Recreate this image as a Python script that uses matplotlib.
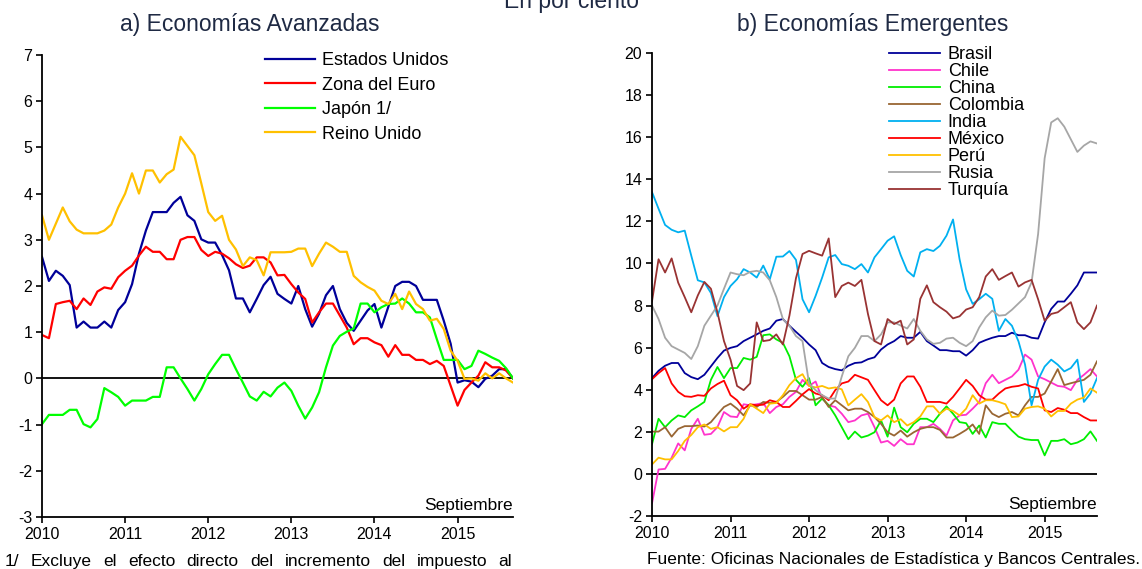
import numpy as np
import matplotlib
matplotlib.use("Agg")
import matplotlib.pyplot as plt

plt.rcParams['font.family'] = ['Liberation Sans', 'DejaVu Sans']
plt.rcParams['axes.unicode_minus'] = False

# months Jan 2010 .. Sep 2015
months = np.arange(69)
year_ticks = [0, 12, 24, 36, 48, 60]
year_labels = ['2010', '2011', '2012', '2013', '2014', '2015']

# a) Economias Avanzadas (% anual)
estados_unidos = [2.63, 2.11, 2.33, 2.22, 2.02, 1.1, 1.23, 1.1, 1.1, 1.23, 1.1, 1.48,
                  1.65, 2.04, 2.7, 3.2, 3.6, 3.6, 3.6, 3.8, 3.93, 3.53, 3.41, 3.01,
                  2.94, 2.94, 2.67, 2.34, 1.73, 1.73, 1.43, 1.72, 2.02, 2.2, 1.83, 1.72,
                  1.62, 2.0, 1.5, 1.12, 1.4, 1.8, 2.0, 1.5, 1.2, 1.03, 1.25, 1.47,
                  1.61, 1.1, 1.55, 2.0, 2.09, 2.09, 2.0, 1.7, 1.7, 1.7, 1.25, 0.75,
                  -0.09, -0.04, -0.07, -0.19, -0.01, 0.06, 0.2, 0.2, 0.0]
zona_euro = [0.94, 0.87, 1.61, 1.65, 1.68, 1.5, 1.73, 1.59, 1.88, 1.97, 1.94, 2.19,
             2.33, 2.44, 2.66, 2.85, 2.74, 2.74, 2.58, 2.58, 3.0, 3.06, 3.06, 2.78,
             2.65, 2.74, 2.7, 2.6, 2.47, 2.39, 2.44, 2.62, 2.62, 2.51, 2.23, 2.24,
             2.04, 1.86, 1.72, 1.21, 1.43, 1.62, 1.62, 1.36, 1.1, 0.74, 0.87, 0.87,
             0.78, 0.72, 0.47, 0.72, 0.51, 0.51, 0.4, 0.4, 0.31, 0.38, 0.27, -0.16,
             -0.59, -0.25, -0.09, 0.06, 0.35, 0.24, 0.24, 0.17, 0.0]
japon = [-0.99, -0.79, -0.79, -0.79, -0.68, -0.68, -0.99, -1.06, -0.88, -0.21, -0.3, -0.4,
         -0.59, -0.48, -0.48, -0.48, -0.4, -0.4, 0.24, 0.24, 0.0, -0.23, -0.48, -0.23,
         0.09, 0.31, 0.51, 0.51, 0.2, -0.09, -0.39, -0.48, -0.29, -0.39, -0.2, -0.09,
         -0.27, -0.59, -0.87, -0.63, -0.3, 0.24, 0.71, 0.92, 1.01, 1.08, 1.62, 1.62,
         1.43, 1.54, 1.61, 1.62, 1.73, 1.62, 1.43, 1.43, 1.32, 0.85, 0.4, 0.4,
         0.4, 0.2, 0.27, 0.6, 0.53, 0.45, 0.38, 0.22, 0.0]
reino_unido = [3.53, 3.0, 3.35, 3.7, 3.4, 3.22, 3.14, 3.14, 3.14, 3.2, 3.33, 3.7,
               4.0, 4.44, 4.0, 4.5, 4.5, 4.24, 4.42, 4.52, 5.23, 5.03, 4.83, 4.22,
               3.6, 3.41, 3.52, 3.0, 2.79, 2.43, 2.62, 2.56, 2.23, 2.73, 2.73, 2.73,
               2.74, 2.81, 2.81, 2.43, 2.7, 2.94, 2.85, 2.74, 2.74, 2.22, 2.08, 1.98,
               1.9, 1.68, 1.61, 1.83, 1.5, 1.88, 1.61, 1.5, 1.25, 1.29, 1.07, 0.6,
               0.38, -0.01, 0.0, -0.05, 0.11, 0.0, 0.11, 0.0, -0.09]

# b) Economias Emergentes (% anual)
brasil = [4.55, 4.9, 5.14, 5.27, 5.27, 4.79, 4.6, 4.5, 4.71, 5.11, 5.51, 5.86,
          5.99, 6.07, 6.31, 6.47, 6.63, 6.8, 6.91, 7.28, 7.36, 7.04, 6.75, 6.47,
          6.15, 5.88, 5.27, 5.08, 4.98, 4.92, 5.14, 5.27, 5.3, 5.45, 5.54, 5.91,
          6.15, 6.31, 6.55, 6.47, 6.47, 6.75, 6.31, 6.1, 5.88, 5.88, 5.83, 5.83,
          5.62, 5.88, 6.23, 6.36, 6.47, 6.55, 6.55, 6.71, 6.59, 6.59, 6.47, 6.43,
          7.2, 7.84, 8.19, 8.19, 8.56, 8.96, 9.57, 9.57, 9.57]
chile = [-1.4, 0.21, 0.24, 0.77, 1.45, 1.12, 2.14, 2.62, 1.86, 1.9, 2.22, 2.94,
         2.73, 2.7, 3.31, 3.26, 3.31, 3.37, 2.89, 3.18, 3.31, 3.66, 3.9, 4.47,
         4.18, 4.39, 3.58, 3.26, 3.18, 2.86, 2.46, 2.54, 2.78, 2.86, 2.22, 1.49,
         1.57, 1.33, 1.65, 1.41, 1.41, 2.22, 2.22, 2.38, 2.14, 1.82, 2.54, 2.78,
         2.81, 3.1, 3.42, 4.31, 4.71, 4.31, 4.47, 4.63, 4.95, 5.67, 5.43, 4.63,
         4.5, 4.34, 4.18, 4.14, 3.98, 4.47, 4.71, 4.98, 4.63]
china = [1.41, 2.62, 2.22, 2.54, 2.78, 2.7, 3.02, 3.21, 3.42, 4.47, 5.08, 4.55,
         5.03, 5.03, 5.51, 5.43, 5.56, 6.59, 6.63, 6.39, 6.23, 5.59, 4.47, 4.14,
         4.55, 3.26, 3.58, 3.26, 2.78, 2.22, 1.65, 2.01, 1.73, 1.82, 1.98, 2.54,
         1.77, 3.15, 2.22, 1.98, 2.38, 2.62, 2.62, 2.46, 2.86, 3.21, 2.86, 2.46,
         2.41, 1.9, 2.3, 1.73, 2.46, 2.38, 2.38, 2.06, 1.77, 1.65, 1.61, 1.61,
         0.88, 1.57, 1.57, 1.65, 1.41, 1.49, 1.65, 2.02, 1.57]
colombia = [2.01, 2.01, 2.22, 1.77, 2.14, 2.27, 2.27, 2.3, 2.25, 2.46, 2.83, 3.18,
            3.34, 3.1, 2.78, 3.26, 3.18, 3.42, 3.37, 3.42, 3.66, 3.94, 3.94, 3.74,
            3.53, 3.53, 3.66, 3.18, 3.5, 3.26, 3.02, 3.1, 3.1, 2.94, 2.7, 2.38,
            1.98, 1.82, 2.06, 1.77, 1.98, 2.14, 2.22, 2.22, 2.09, 1.73, 1.73, 1.9,
            2.09, 2.35, 1.9, 3.26, 2.86, 2.7, 2.86, 2.94, 2.78, 3.26, 3.66, 3.66,
            3.82, 4.39, 4.98, 4.22, 4.31, 4.39, 4.47, 4.71, 5.35]
india = [13.39, 12.6, 11.83, 11.6, 11.48, 11.56, 10.37, 9.2, 9.1, 8.6, 7.5, 8.4,
         8.93, 9.25, 9.73, 9.57, 9.33, 9.9, 9.25, 10.32, 10.33, 10.59, 10.17, 8.3,
         7.68, 8.46, 9.33, 10.29, 10.4, 9.97, 9.89, 9.73, 9.97, 9.57, 10.29, 10.68,
         11.08, 11.29, 10.4, 9.65, 9.38, 10.53, 10.68, 10.59, 10.84, 11.32, 12.09, 10.2,
         8.77, 8.08, 8.3, 8.56, 8.32, 6.8, 7.36, 7.04, 6.3, 5.2, 3.26, 4.47,
         5.1, 5.43, 5.19, 4.87, 5.03, 5.43, 3.42, 3.82, 4.55]
mexico = [4.5, 4.79, 5.03, 4.3, 3.9, 3.69, 3.66, 3.74, 3.71, 4.06, 4.27, 4.43,
          3.74, 3.5, 3.1, 3.31, 3.26, 3.29, 3.5, 3.42, 3.18, 3.18, 3.47, 3.78,
          4.03, 3.82, 3.74, 3.5, 3.98, 4.3, 4.39, 4.71, 4.59, 4.47, 3.98, 3.5,
          3.26, 3.53, 4.3, 4.63, 4.63, 4.14, 3.42, 3.42, 3.42, 3.34, 3.66, 4.06,
          4.47, 4.18, 3.74, 3.53, 3.53, 3.82, 4.06, 4.14, 4.18, 4.27, 4.14, 4.06,
          3.02, 2.94, 3.13, 3.05, 2.89, 2.89, 2.7, 2.54, 2.54]
peru = [0.45, 0.77, 0.69, 0.69, 1.09, 1.57, 1.85, 2.22, 2.35, 2.14, 2.22, 2.02,
        2.22, 2.22, 2.62, 3.31, 3.1, 2.89, 3.34, 3.37, 3.74, 4.22, 4.55, 4.74,
        4.18, 4.11, 4.18, 4.06, 4.11, 4.02, 3.26, 3.53, 3.79, 3.42, 2.7, 2.54,
        2.78, 2.46, 2.6, 2.3, 2.46, 2.73, 3.21, 3.21, 2.86, 3.1, 2.99, 2.78,
        3.1, 3.74, 3.34, 3.5, 3.5, 3.42, 3.31, 2.7, 2.73, 3.1, 3.18, 3.21,
        3.1, 2.73, 2.99, 2.99, 3.34, 3.53, 3.63, 4.06, 3.86]
rusia = [8.0, 7.36, 6.47, 6.07, 5.91, 5.75, 5.46, 6.07, 7.04, 7.52, 8.0, 8.8,
         9.57, 9.49, 9.44, 9.6, 9.65, 9.57, 9.2, 8.4, 7.36, 7.04, 6.55, 6.31,
         4.3, 3.98, 3.74, 3.58, 3.58, 4.63, 5.59, 5.99, 6.55, 6.55, 6.31, 6.63,
         7.2, 7.2, 7.05, 6.91, 7.36, 6.8, 6.39, 6.18, 6.23, 6.43, 6.47, 6.23,
         6.07, 6.31, 6.96, 7.44, 7.76, 7.52, 7.55, 7.8, 8.1, 8.4, 9.1, 11.4,
         15.0, 16.7, 16.9, 16.5, 15.9, 15.3, 15.6, 15.8, 15.7]
turquia = [8.2, 10.2, 9.57, 10.24, 9.09, 8.4, 7.68, 8.48, 9.12, 8.8, 7.68, 6.31,
           5.43, 4.18, 3.98, 4.3, 7.2, 6.31, 6.36, 6.63, 6.15, 7.52, 9.3, 10.45,
           10.6, 10.48, 10.37, 11.19, 8.4, 8.93, 9.09, 8.93, 9.22, 7.6, 6.31, 6.15,
           7.36, 7.12, 7.28, 6.15, 6.39, 8.32, 8.96, 8.16, 7.92, 7.71, 7.39, 7.49,
           7.81, 7.92, 8.4, 9.38, 9.73, 9.22, 9.4, 9.57, 8.9, 9.1, 9.22, 8.3,
           7.28, 7.6, 7.68, 7.92, 8.16, 7.2, 6.88, 7.2, 8.0]

W, H = 1142, 569
fig = plt.figure(figsize=(W / 100, H / 100), dpi=100)


def px_axes(x0, y0, x1, y1):
    # pixel box (top-left origin) -> figure axes
    return fig.add_axes([x0 / W, 1 - y1 / H, (x1 - x0) / W, (y1 - y0) / H])


def style_axes(ax, ymin, ymax, step):
    ax.set_xlim(0, 68)
    ax.set_ylim(ymin, ymax)
    ax.set_yticks(np.arange(ymin, ymax + 0.1, step))
    ax.set_xticks(year_ticks)
    ax.set_xticklabels(year_labels)
    for s in ['top', 'right']:
        ax.spines[s].set_visible(False)
    for s in ['left', 'bottom']:
        ax.spines[s].set_linewidth(1.3)
    ax.tick_params(direction='out', length=4, width=1.2, labelsize=11.5, pad=3)
    ax.axhline(0, color='black', lw=1.3, zorder=1)
    ax.text(1.0, 0.008, 'Septiembre', transform=ax.transAxes, ha='right',
            va='bottom', fontsize=12.5)
    ax.patch.set_visible(False)


ax1 = px_axes(42, 55, 513, 517)
ax1.plot(months, estados_unidos, color='#000099', lw=1.6, label='Estados Unidos')
ax1.plot(months, zona_euro, color='#FF0000', lw=1.6, label='Zona del Euro')
ax1.plot(months, japon, color='#00FF00', lw=1.6, label='Japón 1/')
ax1.plot(months, reino_unido, color='#FFC000', lw=1.6, label='Reino Unido')
style_axes(ax1, -3, 7, 1)
ax1.legend(loc='upper left', bbox_to_anchor=(265 / W, 1 - 52 / H),
           bbox_transform=fig.transFigure, frameon=False, fontsize=13,
           handlelength=2.75, handletextpad=0.4, labelspacing=0.42,
           borderpad=0, borderaxespad=0)

ax2 = px_axes(652, 53, 1097, 516)
series_b = [('Brasil', brasil, '#000099'), ('Chile', chile, '#FF33CC'),
            ('China', china, '#00EE00'), ('Colombia', colombia, '#996633'),
            ('India', india, '#00B0F0'), ('México', mexico, '#FF0000'),
            ('Perú', peru, '#FFC000'), ('Rusia', rusia, '#A6A6A6'),
            ('Turquía', turquia, '#993333')]
for name, vals, col in series_b:
    ax2.plot(months, vals, color=col, lw=1.3, label=name)
style_axes(ax2, -2, 20, 2)
ax2.legend(loc='upper left', bbox_to_anchor=(889 / W, 1 - 46 / H),
           bbox_transform=fig.transFigure, frameon=False, fontsize=13,
           handlelength=2.85, handletextpad=0.4, labelspacing=0.0,
           borderpad=0, borderaxespad=0)

title_col = '#1F2A44'
fig.text(571 / W, 1 - 8 / H, 'En por ciento', ha='center', va='baseline',
         fontsize=16.5, color=title_col)
fig.text(250 / W, 1 - 31 / H, 'a) Economías Avanzadas', ha='center',
         va='baseline', fontsize=16.5, color=title_col)
fig.text(873 / W, 1 - 31 / H, 'b) Economías Emergentes', ha='center',
         va='baseline', fontsize=16.5, color=title_col)

fig.text(1140 / W, 1 - 564 / H,
         'Fuente: Oficinas Nacionales de Estadística y Bancos Centrales.',
         ha='right', va='baseline', fontsize=12.5)

# justified footnote line
words = '1/ Excluye el efecto directo del incremento del impuesto al'.split()
texts = [fig.text(0, 1 - 566 / H, w, ha='left', va='baseline', fontsize=12.5)
         for w in words]
fig.canvas.draw()
rend = fig.canvas.get_renderer()
widths = [t.get_window_extent(rend).width for t in texts]
left, right = 5, 512
gap = (right - left - sum(widths)) / (len(words) - 1)
x = left
for t, w in zip(texts, widths):
    t.set_x(x / W)
    x += w + gap

fig.savefig('out.png', dpi=100)
